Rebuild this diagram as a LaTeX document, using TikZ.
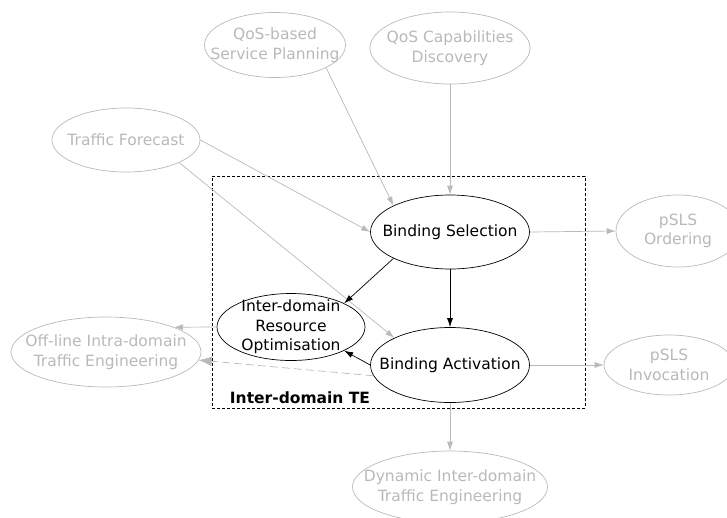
\documentclass[tikz,border=0pt]{standalone}
\usepackage{fontspec}
\setmainfont{DejaVu Sans}
\usetikzlibrary{shapes.geometric,arrows.meta}
\definecolor{softgrey}{RGB}{185,185,185}

\begin{document}
\begin{tikzpicture}[x=1pt,y=-1pt,
	font=\fontsize{15.5}{19.5}\selectfont,
	func/.style={ellipse,draw,align=center,inner xsep=-45pt,inner ysep=-40pt,line width=0.7pt},
	outer/.style={func,draw=softgrey,text=softgrey},
	inner/.style={func,draw=black},
	link/.style={draw=softgrey,line width=0.7pt,-{Latex[length=9pt,width=6pt]}},
	flow/.style={draw=black,line width=0.7pt,-{Latex[length=9pt,width=6pt]}}]
	\useasboundingbox (0,0) rectangle (727,517);
	\node (te) [draw,dashed,dash pattern=on 3pt off 2pt,line width=0.7pt,inner sep=0pt,
		minimum width=373pt,minimum height=232pt] at (398.5,292) {};
	\node (tel) at (300,398) {\bfseries Inter-domain TE};
	\node (sp) [outer,minimum width=141pt,minimum height=65pt] at (275,45) {QoS-based\\Service Planning};
	\node (qc) [outer,minimum width=160pt,minimum height=72pt] at (450,48) {QoS Capabilities\\Discovery};
	\node (tf) [outer,minimum width=148pt,minimum height=64pt] at (126,140) {Traffic Forecast};
	\node (bs) [inner,minimum width=159pt,minimum height=74pt] at (450,232) {Binding Selection};
	\node (iro) [inner,minimum width=148pt,minimum height=67pt] at (291,327) {Inter-domain\\Resource\\Optimisation};
	\node (ba) [inner,minimum width=159pt,minimum height=75pt] at (450,365) {Binding Activation};
	\node (po) [outer,minimum width=124pt,minimum height=72pt] at (678,231) {pSLS\\Ordering};
	\node (pi) [outer,minimum width=130pt,minimum height=60pt] at (669,365) {pSLS\\Invocation};
	\node (off) [outer,minimum width=190pt,minimum height=70pt] at (106,352) {Off-line Intra-domain\\Traffic Engineering};
	\node (dyn) [outer,minimum width=195pt,minimum height=72pt] at (450,487) {Dynamic Inter-domain\\Traffic Engineering};
	\draw[link] (sp.-24) -- (bs.155);
	\draw[link] (qc.south) -- (bs.north);
	\draw[link] (tf.east) -- (bs.west);
	\draw[link] (tf.-23) -- (ba.154);
	\draw[flow] (bs.205) -- (iro.24);
	\draw[flow] (bs.south) -- (ba.north);
	\draw[flow] (ba.west) -- (iro.-24);
	\draw[link,dashed,dash pattern=on 8pt off 4pt,-{Latex[length=13pt,width=10pt]}] (ba.188) -- (off.-5);
	\draw[link] (iro.west) -- (off.20);
	\draw[link] (bs.east) -- (po.west);
	\draw[link] (ba.east) -- (pi.west);
	\draw[link] (ba.south) -- (dyn.north);
\end{tikzpicture}
\end{document}
